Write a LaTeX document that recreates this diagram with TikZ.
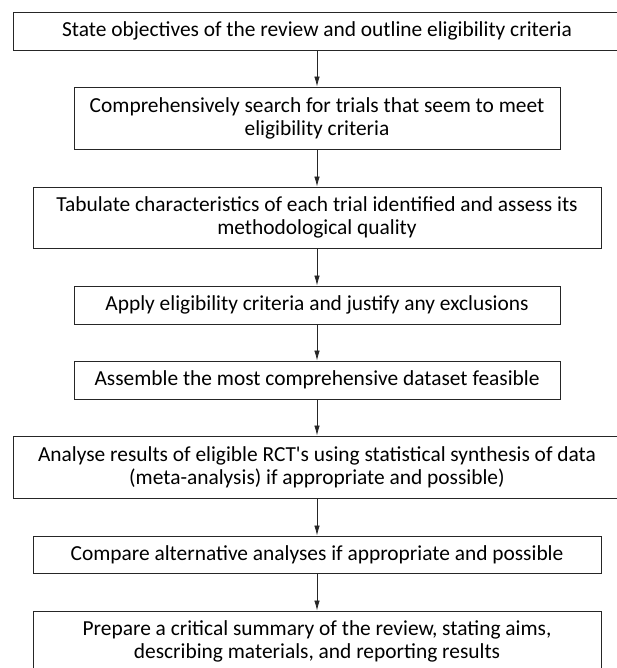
\documentclass[tikz,border=0pt]{standalone}
\usepackage{fontspec}
\setmainfont{Carlito}[Ligatures=TeXOff]
\usetikzlibrary{arrows.meta}
\begin{document}
\begin{tikzpicture}[x=1pt,y=-1pt,
  stepbox/.style={draw=black!85, line width=0.9pt, inner sep=0pt, align=center,
    font=\fontsize{21.4}{23}\selectfont, text=black},
  arr/.style={draw=black!85, line width=0.8pt, -{Latex[length=10pt,width=5.5pt]}}]
\fill[white] (0,0) rectangle (617,668);
\useasboundingbox (0,0) rectangle (617,668);
\node[stepbox, minimum width=608pt, minimum height=38pt] (b1) at (317,31)
  {State objectives of the review and outline eligibility criteria};
\node[stepbox, minimum width=486pt, minimum height=62pt] (b2) at (317,118)
  {Comprehensively search for trials that seem to meet\\eligibility criteria};
\node[stepbox, minimum width=568pt, minimum height=61pt] (b3) at (317,217.5)
  {Tabulate characteristics of each trial identified and assess its\\methodological quality};
\node[stepbox, minimum width=486pt, minimum height=38pt] (b4) at (317,305)
  {Apply eligibility criteria and justify any exclusions};
\node[stepbox, minimum width=486pt, minimum height=38pt] (b5) at (317,380)
  {Assemble the most comprehensive dataset feasible};
\node[stepbox, minimum width=608pt, minimum height=62pt] (b6) at (317,467)
  {Analyse results of eligible RCT's using statistical synthesis of data\\(meta-analysis) if appropriate and possible)};
\node[stepbox, minimum width=568pt, minimum height=37pt] (b7) at (317,554.5)
  {Compare alternative analyses if appropriate and possible};
\node[stepbox, minimum width=568pt, minimum height=61pt] (b8) at (317,641.5)
  {Prepare a critical summary of the review, stating aims,\\describing materials, and reporting results};
\draw[arr] (b1.south) -- (b2.north);
\draw[arr] (b2.south) -- (b3.north);
\draw[arr] (b3.south) -- (b4.north);
\draw[arr] (b4.south) -- (b5.north);
\draw[arr] (b5.south) -- (b6.north);
\draw[arr] (b6.south) -- (b7.north);
\draw[arr] (b7.south) -- (b8.north);
\end{tikzpicture}
\end{document}
